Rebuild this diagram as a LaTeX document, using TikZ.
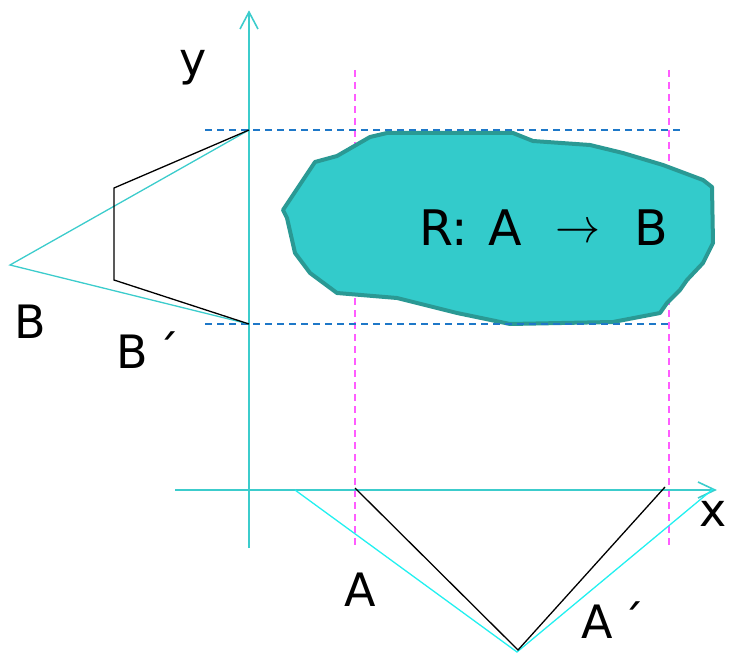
\documentclass[tikz,border=0pt]{standalone}
\usepackage{fontspec}
\usepackage{graphicx}
\setmainfont{DejaVu Sans}
\begin{document}
\begin{tikzpicture}[x=1pt,y=-1pt,
  axis/.style={draw=axiscol,line width=1.6pt},
  guide/.style={draw=guideblue,line width=1.5pt,dash pattern=on 7pt off 5pt},
  vguide/.style={draw=pinkguide,line width=1.2pt,dash pattern=on 7pt off 5pt},
  lbl/.style={font=\fontsize{46}{50}\selectfont,inner sep=0pt,text=black},
  rlbl/.style={font=\fontsize{49}{52}\selectfont,inner sep=0pt,text=black,anchor=base west},
  blk/.style={draw=black,line width=1.3pt},
  cyl/.style={draw=axiscol,line width=1.3pt},
  cyb/.style={draw=brightcyan,line width=1.3pt}]
\definecolor{axiscol}{HTML}{3CCCCC}
\definecolor{brightcyan}{HTML}{22F0F0}
\definecolor{guideblue}{HTML}{1E78C8}
\definecolor{pinkguide}{HTML}{FF5CFF}
\definecolor{blobfill}{HTML}{33CBCB}
\definecolor{blobline}{HTML}{2A9994}
\useasboundingbox (0,0) rectangle (731,655);
% guides
\coordinate (v1t) at (355,70); \coordinate (v1b) at (355,548);
\coordinate (v2t) at (669,70); \coordinate (v2b) at (669,548);
\draw[vguide] (v1t) -- (v1b);
\draw[vguide] (v2t) -- (v2b);
% blob
\path[fill=blobfill,draw=blobline,line width=4pt,line join=round]
 (283,210) -- (287,218) -- (295,253) -- (310,273) -- (337,293) -- (397,298) -- (457,313) -- (510,324) -- (613,322) -- (660,313) -- (667,303) -- (680,290) -- (687,280) -- (703,263) -- (713,243) -- (712,187) -- (703,180) -- (663,165) -- (623,153) -- (590,145) -- (533,141) -- (513,133) -- (387,133) -- (370,137) -- (337,156) -- (315,162) -- cycle;
\node[rlbl] (rR) at (419,246) {R:};
\node[rlbl] (rA) at (488,246) {A};
\node[inner sep=0pt] (rArr) at (578,233) {\resizebox{45pt}{18pt}{$\rightarrow$}};
\node[rlbl] (rB) at (634,246) {B};
% horizontal guides
\coordinate (h1l) at (205,130); \coordinate (h1r) at (683,130);
\coordinate (h2l) at (205,324); \coordinate (h2r) at (668,324);
\draw[guide] (h1l) -- (h1r);
\draw[guide] (h2l) -- (h2r);
% axes
\coordinate (yb) at (249,548); \coordinate (yt) at (249,12);
\coordinate (xl) at (175,490); \coordinate (xr) at (715,490);
\draw[axis] (yb) -- (yt);
\draw[axis] (240,29) -- (yt) -- (258,29);
\draw[axis] (xl) -- (xr);
\draw[axis] (698,482) -- (xr) -- (698,498);
\node[lbl] (ylab) at (193,68) {y};
\node[lbl] (xlab) at (713,514) {x};
% left figure
\coordinate (P1) at (249,130); \coordinate (P2) at (249,324);
\coordinate (Q1) at (114,188); \coordinate (Q2) at (114,280);
\coordinate (Bc) at (10,265);
\draw[cyl] (P1) -- (Bc) -- (P2);
\draw[blk,line join=miter] (P1) -- (Q1) -- (Q2) -- (P2);
\node[lbl] (Blab) at (30,322) {B};
\node[lbl] (Bplab) at (148,350) {B\,´};
% lower figure
\coordinate (C1) at (295,490); \coordinate (C2) at (517,652); \coordinate (C3) at (713,489);
\coordinate (K1) at (355,488); \coordinate (K2) at (518,650); \coordinate (K3) at (665,487);
\draw[cyb] (C1) -- (C2) -- (C3);
\draw[blk] (K1) -- (K2) -- (K3);
\node[lbl] (Alab) at (360,590) {A};
\node[lbl] (Aplab) at (613,620) {A\,´};
\end{tikzpicture}
\end{document}
